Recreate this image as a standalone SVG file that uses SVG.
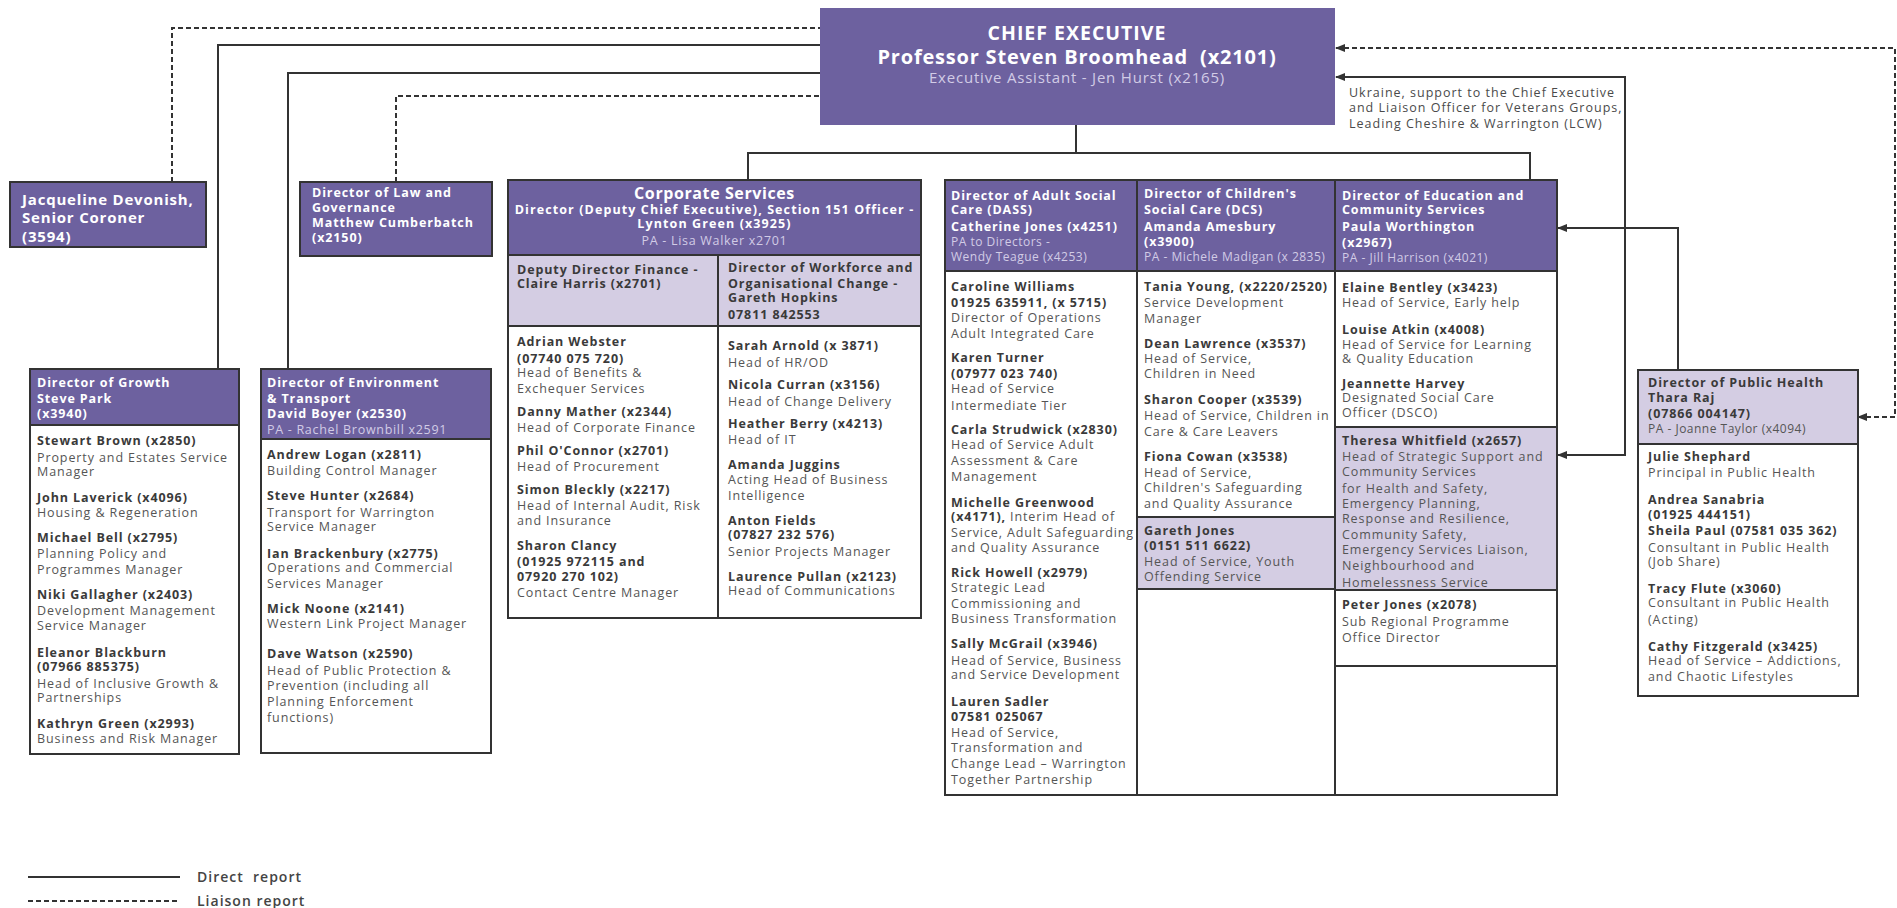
<svg xmlns="http://www.w3.org/2000/svg" width="1897" height="908" viewBox="0 0 1897 908">
<style>
text{font-family:"Open Sans","Liberation Sans",sans-serif}
.hw{font-size:12.5px;letter-spacing:0.9px;font-weight:700;fill:#fff}
.hp{font-size:12px;letter-spacing:0.5px;fill:#d2cce6}
.nm{font-size:12.5px;letter-spacing:0.9px;font-weight:700;fill:#3a3a3a}
.rl{font-size:12.5px;letter-spacing:0.9px;fill:#555}
.box{fill:#fff;stroke:#333;stroke-width:2}
.hdr{fill:#6d619f;stroke:#333;stroke-width:2}
.lh{fill:#d4cde3;stroke:#333;stroke-width:2}
.ln{fill:none;stroke:#333;stroke-width:2}
.dl{fill:none;stroke:#333;stroke-width:2;stroke-dasharray:5 3}
</style>
<defs>
<marker id="ar" markerWidth="10" markerHeight="8" refX="9" refY="4" orient="auto-start-reverse" markerUnits="userSpaceOnUse">
<path d="M0,0 L10,4 L0,8 Z" fill="#333"/>
</marker>
</defs>
<g id="connectors">
<path class="dl" d="M172,182 V28 H820"/>
<path class="ln" d="M218,369 V45 H820"/>
<path class="ln" d="M288,369 V73 H820"/>
<path class="dl" d="M396,182 V96 H820"/>
<path class="ln" d="M1076,125 V153 M748,180 V153 H1530 V180"/>
<path class="dl" d="M1858,417 H1895 V48 H1336" marker-start="url(#ar)" marker-end="url(#ar)"/>
<path class="ln" d="M1558,455 H1625 V77 H1336" marker-start="url(#ar)" marker-end="url(#ar)"/>
<path class="ln" d="M1678,370 V228 H1558" marker-end="url(#ar)"/>
</g>
<g id="ceo">
<rect x="820" y="8" width="515" height="117" fill="#6d619f"/>
<text x="1077" y="40" text-anchor="middle" style="font-size:19.5px;letter-spacing:1px;font-weight:700;fill:#fff">CHIEF EXECUTIVE</text>
<text x="1077" y="64" text-anchor="middle" style="font-size:20px;letter-spacing:0.8px;font-weight:700;fill:#fff" xml:space="preserve">Professor Steven Broomhead  (x2101)</text>
<text x="1077" y="83" text-anchor="middle" style="font-size:15px;letter-spacing:0.8px;fill:#d2cce6">Executive Assistant - Jen Hurst (x2165)</text>
</g>
<g id="ceo-note">
<text class="rl" x="1349" style="letter-spacing:1px;fill:#4a4a4a"><tspan x="1349" y="96.5">Ukraine, support to the Chief Executive</tspan><tspan x="1349" y="111.5">and Liaison Officer for Veterans Groups,</tspan><tspan x="1349" y="127.5">Leading Cheshire &amp; Warrington (LCW)</tspan></text>
</g>
<g id="coroner">
<rect class="hdr" x="10" y="182" width="196" height="65"/>
<text style="font-size:15px;letter-spacing:0.8px;font-weight:700;fill:#fff"><tspan x="22" y="204.5">Jacqueline Devonish,</tspan><tspan x="22" y="223">Senior Coroner</tspan><tspan x="22" y="241.5">(3594)</tspan></text>
</g>
<g id="law">
<rect class="hdr" x="300" y="182" width="192" height="74"/>
<text class="hw"><tspan x="312" y="197">Director of Law and</tspan><tspan x="312" y="212">Governance</tspan><tspan x="312" y="227">Matthew Cumberbatch</tspan><tspan x="312" y="242">(x2150)</tspan></text>
</g>
<g id="growth">
<rect class="box" x="30" y="369" width="209" height="385"/>
<rect class="hdr" x="30" y="369" width="209" height="56"/>
<text class="hw"><tspan x="37" y="386.5">Director of Growth</tspan><tspan x="37" y="402.5">Steve Park</tspan><tspan x="37" y="417.5">(x3940)</tspan></text>
<text class="nm"><tspan x="37" y="444.5">Stewart Brown (x2850)</tspan><tspan x="37" y="501.5">John Laverick (x4096)</tspan><tspan x="37" y="541.5">Michael Bell (x2795)</tspan><tspan x="37" y="598.5">Niki Gallagher (x2403)</tspan><tspan x="37" y="656.5">Eleanor Blackburn</tspan><tspan x="37" y="670.5">(07966 885375)</tspan><tspan x="37" y="727.5">Kathryn Green (x2993)</tspan></text>
<text class="rl"><tspan x="37" y="461.5">Property and Estates Service</tspan><tspan x="37" y="475.5">Manager</tspan><tspan x="37" y="516.5">Housing &amp; Regeneration</tspan><tspan x="37" y="557.5">Planning Policy and</tspan><tspan x="37" y="573.5">Programmes Manager</tspan><tspan x="37" y="614.5">Development Management</tspan><tspan x="37" y="629.5">Service Manager</tspan><tspan x="37" y="687.5">Head of Inclusive Growth &amp;</tspan><tspan x="37" y="701.5">Partnerships</tspan><tspan x="37" y="742.5">Business and Risk Manager</tspan></text>
</g>
<g id="environment">
<rect class="box" x="261" y="369" width="230" height="384"/>
<rect class="hdr" x="261" y="369" width="230" height="70"/>
<text class="hw"><tspan x="267" y="386.5">Director of Environment</tspan><tspan x="267" y="402.5">&amp; Transport</tspan><tspan x="267" y="417.5">David Boyer (x2530)</tspan></text>
<text class="hp" style="font-size:12.5px;letter-spacing:0.7px"><tspan x="267" y="433.5">PA - Rachel Brownbill x2591</tspan></text>
<text class="nm"><tspan x="267" y="458.5">Andrew Logan (x2811)</tspan><tspan x="267" y="499.5">Steve Hunter (x2684)</tspan><tspan x="267" y="557.5">Ian Brackenbury (x2775)</tspan><tspan x="267" y="612.5">Mick Noone (x2141)</tspan><tspan x="267" y="657.5">Dave Watson (x2590)</tspan></text>
<text class="rl"><tspan x="267" y="474.5">Building Control Manager</tspan><tspan x="267" y="516.5">Transport for Warrington</tspan><tspan x="267" y="530.5">Service Manager</tspan><tspan x="267" y="571.5">Operations and Commercial</tspan><tspan x="267" y="587.5">Services Manager</tspan><tspan x="267" y="627.5">Western Link Project Manager</tspan><tspan x="267" y="674.5">Head of Public Protection &amp;</tspan><tspan x="267" y="689.5">Prevention (including all</tspan><tspan x="267" y="705.5">Planning Enforcement</tspan><tspan x="267" y="721.5">functions)</tspan></text>
</g>
<g id="corporate">
<rect class="box" x="508" y="180" width="413" height="438"/>
<rect class="hdr" x="508" y="180" width="413" height="75"/>
<rect class="lh" x="508" y="255" width="210" height="71"/>
<rect class="lh" x="718" y="255" width="203" height="71"/>
<line class="ln" x1="718" y1="326" x2="718" y2="618"/>
<text x="714.5" y="198.5" text-anchor="middle" style="font-size:16px;letter-spacing:0.6px;font-weight:700;fill:#fff">Corporate Services</text>
<text class="hw" text-anchor="middle" style="letter-spacing:1.1px"><tspan x="714.5" y="213.5">Director (Deputy Chief Executive), Section 151 Officer -</tspan><tspan x="714.5" y="227.5">Lynton Green (x3925)</tspan></text>
<text class="hp" x="714.5" y="244.5" text-anchor="middle" style="font-size:12.5px;letter-spacing:0.7px">PA - Lisa Walker x2701</text>
<text class="nm"><tspan x="517" y="273.5">Deputy Director Finance -</tspan><tspan x="517" y="287.5">Claire Harris (x2701)</tspan><tspan x="728" y="271.5">Director of Workforce and</tspan><tspan x="728" y="287.5">Organisational Change -</tspan><tspan x="728" y="301.5">Gareth Hopkins</tspan><tspan x="728" y="318.5">07811 842553</tspan></text>
<text class="nm"><tspan x="517" y="345.5">Adrian Webster</tspan><tspan x="517" y="362.5">(07740 075 720)</tspan><tspan x="517" y="415.5">Danny Mather (x2344)</tspan><tspan x="517" y="454.5">Phil O'Connor (x2701)</tspan><tspan x="517" y="493.5">Simon Bleckly (x2217)</tspan><tspan x="517" y="549.5">Sharon Clancy</tspan><tspan x="517" y="565.5">(01925 972115 and</tspan><tspan x="517" y="580.5">07920 270 102)</tspan></text>
<text class="rl"><tspan x="517" y="376.5">Head of Benefits &amp;</tspan><tspan x="517" y="392.5">Exchequer Services</tspan><tspan x="517" y="431.5">Head of Corporate Finance</tspan><tspan x="517" y="470.5">Head of Procurement</tspan><tspan x="517" y="509.5">Head of Internal Audit, Risk</tspan><tspan x="517" y="524.5">and Insurance</tspan><tspan x="517" y="596.5">Contact Centre Manager</tspan></text>
<text class="nm"><tspan x="728" y="349.5">Sarah Arnold (x 3871)</tspan><tspan x="728" y="388.5">Nicola Curran (x3156)</tspan><tspan x="728" y="427.5">Heather Berry (x4213)</tspan><tspan x="728" y="468.5">Amanda Juggins</tspan><tspan x="728" y="524.5">Anton Fields</tspan><tspan x="728" y="538.5">(07827 232 576)</tspan><tspan x="728" y="580.5">Laurence Pullan (x2123)</tspan></text>
<text class="rl"><tspan x="728" y="366.5">Head of HR/OD</tspan><tspan x="728" y="405.5">Head of Change Delivery</tspan><tspan x="728" y="443.5">Head of IT</tspan><tspan x="728" y="483.5">Acting Head of Business</tspan><tspan x="728" y="499.5">Intelligence</tspan><tspan x="728" y="555.5">Senior Projects Manager</tspan><tspan x="728" y="594.5">Head of Communications</tspan></text>
</g>
<g id="adult">
<rect class="box" x="945" y="180" width="192" height="615"/>
<rect class="hdr" x="945" y="180" width="192" height="91"/>
<text class="hw"><tspan x="951" y="199.5">Director of Adult Social</tspan><tspan x="951" y="213.5">Care (DASS)</tspan><tspan x="951" y="230.5">Catherine Jones (x4251)</tspan></text>
<text class="hp"><tspan x="951" y="245.5">PA to Directors -</tspan><tspan x="951" y="260.5">Wendy Teague (x4253)</tspan></text>
<text class="nm"><tspan x="951" y="290.5">Caroline Williams</tspan><tspan x="951" y="306.5">01925 635911, (x 5715)</tspan><tspan x="951" y="361.5">Karen Turner</tspan><tspan x="951" y="377.5">(07977 023 740)</tspan><tspan x="951" y="433.5">Carla Strudwick (x2830)</tspan><tspan x="951" y="506.5">Michelle Greenwood</tspan><tspan x="951" y="520.5">(x4171),</tspan><tspan x="951" y="576.5">Rick Howell (x2979)</tspan><tspan x="951" y="647.5">Sally McGrail (x3946)</tspan><tspan x="951" y="705.5">Lauren Sadler</tspan><tspan x="951" y="720.5">07581 025067</tspan></text>
<text class="rl"><tspan x="951" y="321.5">Director of Operations</tspan><tspan x="951" y="337.5">Adult Integrated Care</tspan><tspan x="951" y="392.5">Head of Service</tspan><tspan x="951" y="409.5">Intermediate Tier</tspan><tspan x="951" y="448.5">Head of Service Adult</tspan><tspan x="951" y="464.5">Assessment &amp; Care</tspan><tspan x="951" y="480.5">Management</tspan><tspan x="1010" y="520.5">Interim Head of</tspan><tspan x="951" y="536.5">Service, Adult Safeguarding</tspan><tspan x="951" y="551.5">and Quality Assurance</tspan><tspan x="951" y="591.5">Strategic Lead</tspan><tspan x="951" y="607.5">Commissioning and</tspan><tspan x="951" y="622.5">Business Transformation</tspan><tspan x="951" y="664.5">Head of Service, Business</tspan><tspan x="951" y="678.5">and Service Development</tspan><tspan x="951" y="736.5">Head of Service,</tspan><tspan x="951" y="751.5">Transformation and</tspan><tspan x="951" y="767.5">Change Lead – Warrington</tspan><tspan x="951" y="783.5">Together Partnership</tspan></text>
</g>
<g id="children">
<rect class="box" x="1137" y="180" width="198" height="615"/>
<rect class="hdr" x="1137" y="180" width="198" height="91"/>
<rect class="lh" x="1137" y="517" width="198" height="72"/>
<text class="hw"><tspan x="1144" y="197.5">Director of Children's</tspan><tspan x="1144" y="213.5">Social Care (DCS)</tspan><tspan x="1144" y="230.5">Amanda Amesbury</tspan><tspan x="1144" y="245.5">(x3900)</tspan></text>
<text class="hp"><tspan x="1144" y="260.5">PA - Michele Madigan (x 2835)</tspan></text>
<text class="nm"><tspan x="1144" y="290.5">Tania Young, (x2220/2520)</tspan><tspan x="1144" y="347.5">Dean Lawrence (x3537)</tspan><tspan x="1144" y="403.5">Sharon Cooper (x3539)</tspan><tspan x="1144" y="460.5">Fiona Cowan (x3538)</tspan><tspan x="1144" y="534.5">Gareth Jones</tspan><tspan x="1144" y="549.5">(0151 511 6622)</tspan></text>
<text class="rl"><tspan x="1144" y="306.5">Service Development</tspan><tspan x="1144" y="322.5">Manager</tspan><tspan x="1144" y="362.5">Head of Service,</tspan><tspan x="1144" y="377.5">Children in Need</tspan><tspan x="1144" y="419.5">Head of Service, Children in</tspan><tspan x="1144" y="435.5">Care &amp; Care Leavers</tspan><tspan x="1144" y="476.5">Head of Service,</tspan><tspan x="1144" y="491.5">Children's Safeguarding</tspan><tspan x="1144" y="507.5">and Quality Assurance</tspan><tspan x="1144" y="565.5">Head of Service, Youth</tspan><tspan x="1144" y="580.5">Offending Service</tspan></text>
</g>
<g id="education">
<rect class="box" x="1335" y="180" width="222" height="615"/>
<rect class="hdr" x="1335" y="180" width="222" height="91"/>
<rect class="lh" x="1335" y="427" width="222" height="163"/>
<line class="ln" x1="1335" y1="666" x2="1557" y2="666"/>
<text class="hw"><tspan x="1342" y="199.5">Director of Education and</tspan><tspan x="1342" y="213.5">Community Services</tspan><tspan x="1342" y="230.5">Paula Worthington</tspan><tspan x="1342" y="246.5">(x2967)</tspan></text>
<text class="hp"><tspan x="1342" y="261.5">PA - Jill Harrison (x4021)</tspan></text>
<text class="nm"><tspan x="1342" y="291.5">Elaine Bentley (x3423)</tspan><tspan x="1342" y="333.5">Louise Atkin (x4008)</tspan><tspan x="1342" y="387.5">Jeannette Harvey</tspan><tspan x="1342" y="444.5">Theresa Whitfield (x2657)</tspan><tspan x="1342" y="608.5">Peter Jones (x2078)</tspan></text>
<text class="rl"><tspan x="1342" y="306.5">Head of Service, Early help</tspan><tspan x="1342" y="348.5">Head of Service for Learning</tspan><tspan x="1342" y="362.5">&amp; Quality Education</tspan><tspan x="1342" y="401.5">Designated Social Care</tspan><tspan x="1342" y="416.5">Officer (DSCO)</tspan><tspan x="1342" y="460.5">Head of Strategic Support and</tspan><tspan x="1342" y="475.5">Community Services</tspan><tspan x="1342" y="492.5">for Health and Safety,</tspan><tspan x="1342" y="507.5">Emergency Planning,</tspan><tspan x="1342" y="522.5">Response and Resilience,</tspan><tspan x="1342" y="538.5">Community Safety,</tspan><tspan x="1342" y="553.5">Emergency Services Liaison,</tspan><tspan x="1342" y="569.5">Neighbourhood and</tspan><tspan x="1342" y="586.5">Homelessness Service</tspan><tspan x="1342" y="625.5">Sub Regional Programme</tspan><tspan x="1342" y="641.5">Office Director</tspan></text>
</g>
<g id="public-health">
<rect class="box" x="1638" y="370" width="220" height="326"/>
<rect class="lh" x="1638" y="370" width="220" height="74"/>
<text class="nm"><tspan x="1648" y="386.5">Director of Public Health</tspan><tspan x="1648" y="401.5">Thara Raj</tspan><tspan x="1648" y="417.5">(07866 004147)</tspan></text>
<text class="rl" style="font-size:12px;letter-spacing:0.5px"><tspan x="1648" y="432.5">PA - Joanne Taylor (x4094)</tspan></text>
<text class="nm"><tspan x="1648" y="460.5">Julie Shephard</tspan><tspan x="1648" y="503.5">Andrea Sanabria</tspan><tspan x="1648" y="518.5">(01925 444151)</tspan><tspan x="1648" y="534.5">Sheila Paul (07581 035 362)</tspan><tspan x="1648" y="592.5">Tracy Flute (x3060)</tspan><tspan x="1648" y="650.5">Cathy Fitzgerald (x3425)</tspan></text>
<text class="rl"><tspan x="1648" y="476.5">Principal in Public Health</tspan><tspan x="1648" y="551.5">Consultant in Public Health</tspan><tspan x="1648" y="565.5">(Job Share)</tspan><tspan x="1648" y="606.5">Consultant in Public Health</tspan><tspan x="1648" y="623.5">(Acting)</tspan><tspan x="1648" y="664.5">Head of Service – Addictions,</tspan><tspan x="1648" y="680.5">and Chaotic Lifestyles</tspan></text>
</g>
<g id="legend">
<line class="ln" x1="28" y1="877" x2="180" y2="877"/>
<line class="dl" x1="28" y1="901" x2="180" y2="901"/>
<text x="197" y="882" xml:space="preserve" style="font-size:14px;letter-spacing:1px;font-weight:600;fill:#444">Direct  report</text>
<text x="197" y="906" style="font-size:14px;letter-spacing:1px;font-weight:600;fill:#444">Liaison report</text>
</g>
</svg>
